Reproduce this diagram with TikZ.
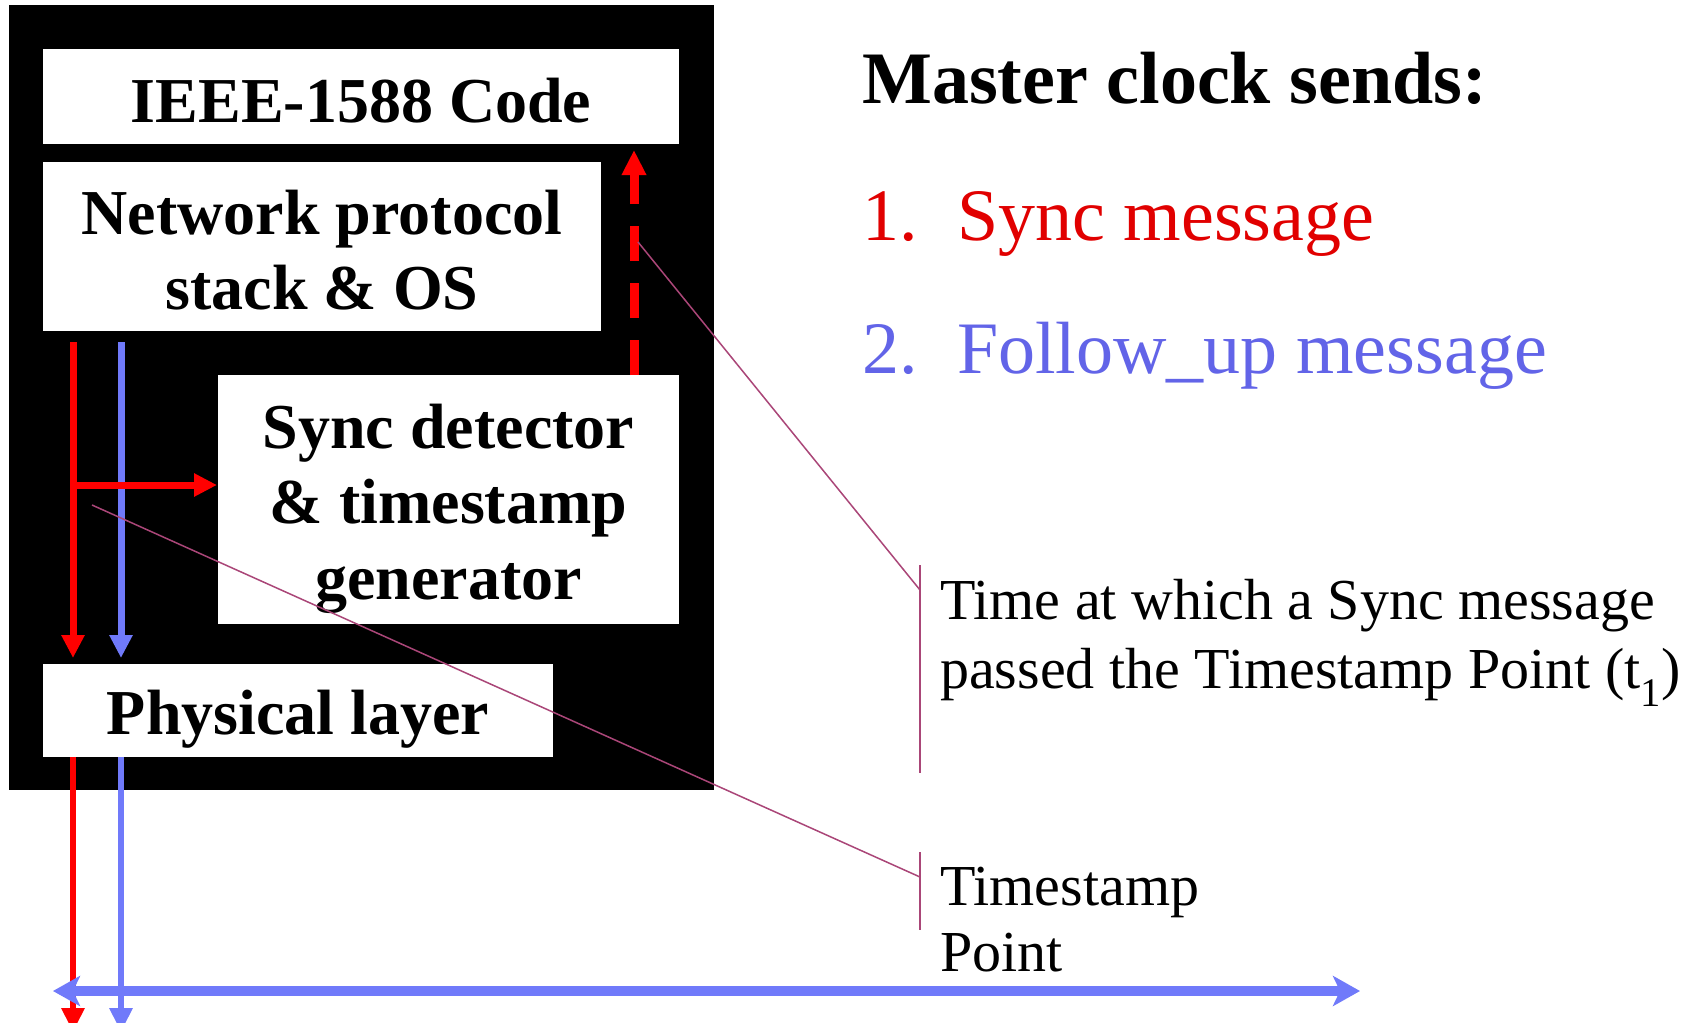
\documentclass[tikz,border=0pt]{standalone}
\usepackage{fontspec}
\setmainfont{Liberation Serif}
\usetikzlibrary{arrows.meta,calc}
\definecolor{sigred}{RGB}{255,0,0}
\definecolor{sigblue}{RGB}{112,122,250}
\definecolor{txtred}{RGB}{225,0,0}
\definecolor{txtblue}{RGB}{98,100,232}
\definecolor{calloutc}{RGB}{170,70,120}

\begin{document}
\begin{tikzpicture}[x=1pt,y=-1pt,
  layerbox/.style={fill=white,inner sep=0pt,outer sep=0pt,anchor=north west},
  boxtext/.style={font=\fontsize{64}{75.5}\selectfont\bfseries,align=center,inner sep=0pt,anchor=north},
  note/.style={font=\fontsize{58}{69}\selectfont,align=left,inner sep=0pt,anchor=north west},
  bigtext/.style={font=\fontsize{74}{88}\selectfont,inner sep=0pt,anchor=base west},
  redline/.style={draw=sigred,line width=7pt},
  blueline/.style={draw=sigblue,line width=7pt},
  downtip/.style={-{Triangle[length=23pt,width=22pt]}},
  callout/.style={draw=calloutc,line width=1.5pt}]

\clip (0,0) rectangle (1696,1022);
\fill[white] (0,0) rectangle (1696,1022);

% black housing of the clock node
\node[fill=black,inner sep=0pt,outer sep=0pt,anchor=north west,
      minimum width=705pt,minimum height=785pt] (frame) at (9,5) {};

% software / hardware layers
\node[layerbox,minimum width=636pt,minimum height=95pt]  (ieee) at (43,49) {};
\node[layerbox,minimum width=558pt,minimum height=169pt] (net)  at (43,162) {};
\node[layerbox,minimum width=461pt,minimum height=249pt] (sync) at (218,375) {};
\node[layerbox,minimum width=510pt,minimum height=93pt]  (phys) at (43,664) {};

\node[boxtext] (ieeeT) at ($(ieee.north)+(0,28.7)$) {IEEE-1588 Code};
\node[boxtext] (netT)  at ($(net.north)+(0,27.7)$)  {Network protocol\\stack \& OS};
\node[boxtext] (syncT) at ($(sync.north)+(0,28.7)$) {Sync detector\\\& timestamp\\generator};
\node[boxtext] (physT) at ($(phys.north)+(0,25.7)$) {Physical layer};

% signal tracks
\coordinate (rx) at (73,0);
\coordinate (bx) at (121,0);
\coordinate (dx) at (634,0);
\coordinate (branch) at (73,485);
\coordinate (rbot) at (73,1032);
\coordinate (bbot) at (121,1032);
\coordinate (busL) at (53,991);
\coordinate (busR) at (1360,991);

\draw[redline,downtip,shorten <=11pt,shorten >=6pt] (net.south -| rx) -- (phys.north -| rx);
\draw[blueline,downtip,shorten <=11pt,shorten >=6pt] (net.south -| bx) -- (phys.north -| bx);
\draw[redline,-{Triangle[length=23pt,width=22pt]},shorten >=1pt] (branch) -- (sync.west |- branch);
\draw[draw=sigred,line width=9pt,dash pattern=on 35pt off 22pt,
      -{Triangle[length=25pt,width=23pt]},shorten >=6pt] (sync.north -| dx) -- (ieee.south -| dx);

\draw[draw=sigred,line width=6pt,-{Triangle[length=24pt,width=22pt]}] (phys.south -| rx) -- (rbot);
\draw[draw=sigblue,line width=6pt,-{Triangle[length=24pt,width=22pt]}] (phys.south -| bx) -- (bbot);

% network medium
\draw[draw=sigblue,line width=10pt,
      {Stealth[length=27pt,width=30pt,inset=7pt]}-{Stealth[length=27pt,width=30pt,inset=7pt]}] (busL) -- (busR);

% legend
\node[bigtext,font=\fontsize{74}{88}\selectfont\bfseries] (title) at (862,103) {Master clock sends:};
\node[bigtext,text=txtred] (item1) at (862,240) {\makebox[95pt][l]{1.}Sync message};
\node[bigtext,text=txtblue] (item2) at (862,373) {\makebox[95pt][l]{2.}Follow\_up message};

% callouts
\node[note] (note1) at (940,579) {Time at which a Sync message\\passed the Timestamp Point (t\textsubscript{1})};
\node[note,font=\fontsize{58}{66}\selectfont] (note2) at (940,867) {Timestamp\\Point};

\coordinate (c1s) at (638,242);
\coordinate (c1e) at (920,590);
\coordinate (b1t) at (920,565);
\coordinate (b1b) at (920,773);
\coordinate (c2s) at (92,505);
\coordinate (c2e) at (920,877);
\coordinate (b2t) at (920,852);
\coordinate (b2b) at (920,930);
\draw[callout] (c1s) -- (c1e);
\draw[callout] (b1t) -- (b1b);
\draw[callout] (c2s) -- (c2e);
\draw[callout] (b2t) -- (b2b);
\end{tikzpicture}
\end{document}
